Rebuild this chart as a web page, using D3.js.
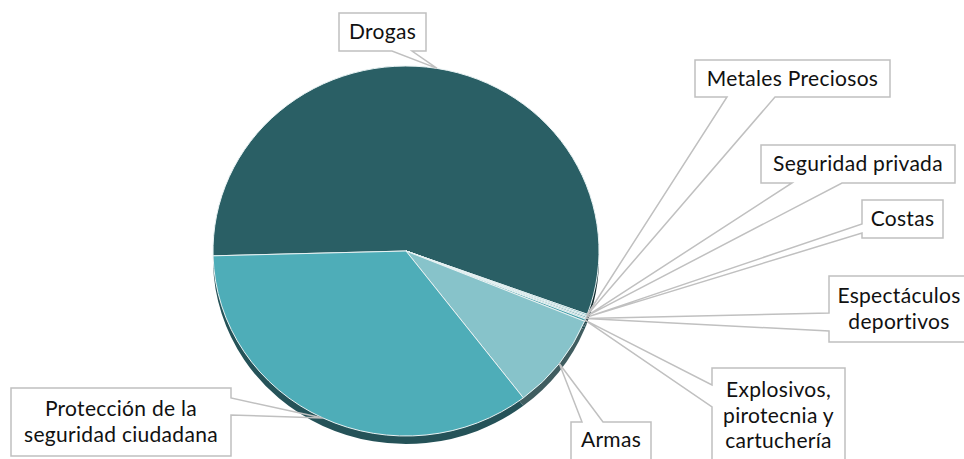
<!DOCTYPE html>
<html>
<head>
<meta charset="utf-8">
<script src="https://cdn.jsdelivr.net/npm/d3@7"></script>
<style>
  body { margin: 0; background: #fff; }
  svg text { font-family: Lato, "Open Sans", sans-serif; fill: #111; letter-spacing: 0.3px; }
</style>
</head>
<body>
<div id="chart"></div>
<script>
// data (percent share)
var categories = ["Drogas", "Metales Preciosos", "Seguridad privada", "Costas",
                  "Espectáculos deportivos", "Explosivos, pirotecnia y cartuchería",
                  "Armas", "Protección de la seguridad ciudadana"];
var values = [56.0, 0.12, 0.10, 0.12, 0.10, 0.20, 8.4, 35.0];
var labelLines = [["Drogas"], ["Metales Preciosos"], ["Seguridad privada"], ["Costas"],
                  ["Espectáculos", "deportivos"], ["Explosivos,", "pirotecnia y", "cartuchería"],
                  ["Armas"], ["Protección de la", "seguridad ciudadana"]];
var colors = ["#295c62", "#3f8e98", "#5fb4be", "#357a83", "#67bac3", "#4a9fa9", "#83bec4", "#4ca8b3"];

// callout boxes: x, y, w, h, wedge side, wedge base (two coords along that side)
var boxes = [
  {x: 339, y: 13, w: 87, h: 38, side: "bottom", b: [392, 412]},
  {x: 695, y: 60, w: 195, h: 37, side: "bottom", b: [727, 775]},
  {x: 761, y: 145, w: 194, h: 38, side: "bottom", b: [792, 842]},
  {x: 862, y: 200, w: 81, h: 38, side: "left", b: [224, 233]},
  {x: 829, y: 276, w: 140, h: 66, side: "left", b: [313, 331]},
  {x: 712, y: 368, w: 133, h: 95, side: "left", b: [385, 407]},
  {x: 571, y: 422, w: 80, h: 45, side: "top", b: [582, 603]},
  {x: 11, y: 388, w: 220, h: 68, side: "right", b: [398, 415]}
];

var W = 964, H = 459;
var cx = 406, cy = 251, rx = 193, ry = 185, depth = 8;
var startA = -91.5 * Math.PI / 180;

var svg = d3.select("#chart").append("svg")
    .attr("width", W)
    .attr("height", H);

var defs = svg.append("defs");
colors.forEach(function(c, i) {
  var g = defs.append("linearGradient")
      .attr("id", "grad" + i)
      .attr("gradientUnits", "userSpaceOnUse")
      .attr("x1", cx - rx).attr("y1", cy - ry)
      .attr("x2", cx + rx).attr("y2", cy + ry);
  g.append("stop").attr("offset", "0%").attr("stop-color", d3.color(c).brighter(0.08));
  g.append("stop").attr("offset", "100%").attr("stop-color", d3.color(c).darker(0.08));
});

var pie = d3.pie()
    .sort(null)
    .value(function(d) { return d; })
    .startAngle(startA)
    .endAngle(startA + 2 * Math.PI);

var arcs = pie(values);
var arc = d3.arc().innerRadius(0).outerRadius(rx);

// side of the 3d pie
var side = svg.append("g")
    .attr("transform", "translate(" + cx + "," + (cy + depth) + ") scale(1," + (ry / rx) + ")");
side.selectAll("path")
    .data(arcs)
  .enter().append("path")
    .attr("d", arc)
    .attr("fill", function(d, i) { return d3.color(colors[i]).darker(2); });

// top face
var face = svg.append("g")
    .attr("transform", "translate(" + cx + "," + cy + ") scale(1," + (ry / rx) + ")");
face.selectAll("path")
    .data(arcs)
  .enter().append("path")
    .attr("d", arc)
    .attr("fill", function(d, i) { return "url(#grad" + i + ")"; })
    .attr("stroke", "#e8f2f3")
    .attr("stroke-width", 1)
    .attr("vector-effect", "non-scaling-stroke");

// callouts
function tipOf(d) {
  var a = (d.startAngle + d.endAngle) / 2;
  return [cx + rx * Math.sin(a), cy - ry * Math.cos(a)];
}

function calloutPath(b, t) {
  var x0 = b.x, y0 = b.y, x1 = b.x + b.w, y1 = b.y + b.h;
  var p = d3.path();
  if (b.side == "bottom") {
    p.moveTo(x0, y0); p.lineTo(x1, y0); p.lineTo(x1, y1);
    p.lineTo(b.b[1], y1); p.lineTo(t[0], t[1]); p.lineTo(b.b[0], y1);
    p.lineTo(x0, y1);
  } else if (b.side == "left") {
    p.moveTo(x0, y0); p.lineTo(x1, y0); p.lineTo(x1, y1); p.lineTo(x0, y1);
    p.lineTo(x0, b.b[1]); p.lineTo(t[0], t[1]); p.lineTo(x0, b.b[0]);
  } else if (b.side == "top") {
    p.moveTo(x0, y0); p.lineTo(b.b[0], y0); p.lineTo(t[0], t[1]); p.lineTo(b.b[1], y0);
    p.lineTo(x1, y0); p.lineTo(x1, y1); p.lineTo(x0, y1);
  } else {
    p.moveTo(x0, y0); p.lineTo(x1, y0); p.lineTo(x1, b.b[0]); p.lineTo(t[0], t[1]);
    p.lineTo(x1, b.b[1]); p.lineTo(x1, y1); p.lineTo(x0, y1);
  }
  p.closePath();
  return p.toString();
}

var labels = svg.append("g").attr("class", "labels");

labels.selectAll("rect")
    .data(arcs)
  .enter().append("rect")
    .attr("x", function(d, i) { return boxes[i].x; })
    .attr("y", function(d, i) { return boxes[i].y; })
    .attr("width", function(d, i) { return boxes[i].w; })
    .attr("height", function(d, i) { return boxes[i].h; })
    .attr("fill", "#fff");

labels.selectAll("path")
    .data(arcs)
  .enter().append("path")
    .attr("d", function(d, i) { return calloutPath(boxes[i], tipOf(d)); })
    .attr("fill", "none")
    .attr("stroke", "#c0c0c0")
    .attr("stroke-width", 1.5);

var lineH = 25.5;
labels.selectAll("text")
    .data(arcs)
  .enter().append("text")
    .attr("text-anchor", "middle")
    .style("font-size", "21px")
    .each(function(d, i) {
      var b = boxes[i], lines = labelLines[i];
      var y0 = b.y + b.h / 2 - (lines.length - 1) * lineH / 2 + 7;
      if (i == 6) y0 = b.y + 25;
      d3.select(this).selectAll("tspan")
          .data(lines)
        .enter().append("tspan")
          .attr("x", b.x + b.w / 2)
          .attr("y", function(l, j) { return y0 + j * lineH; })
          .text(function(l) { return l; });
    });
</script>
</body>
</html>
